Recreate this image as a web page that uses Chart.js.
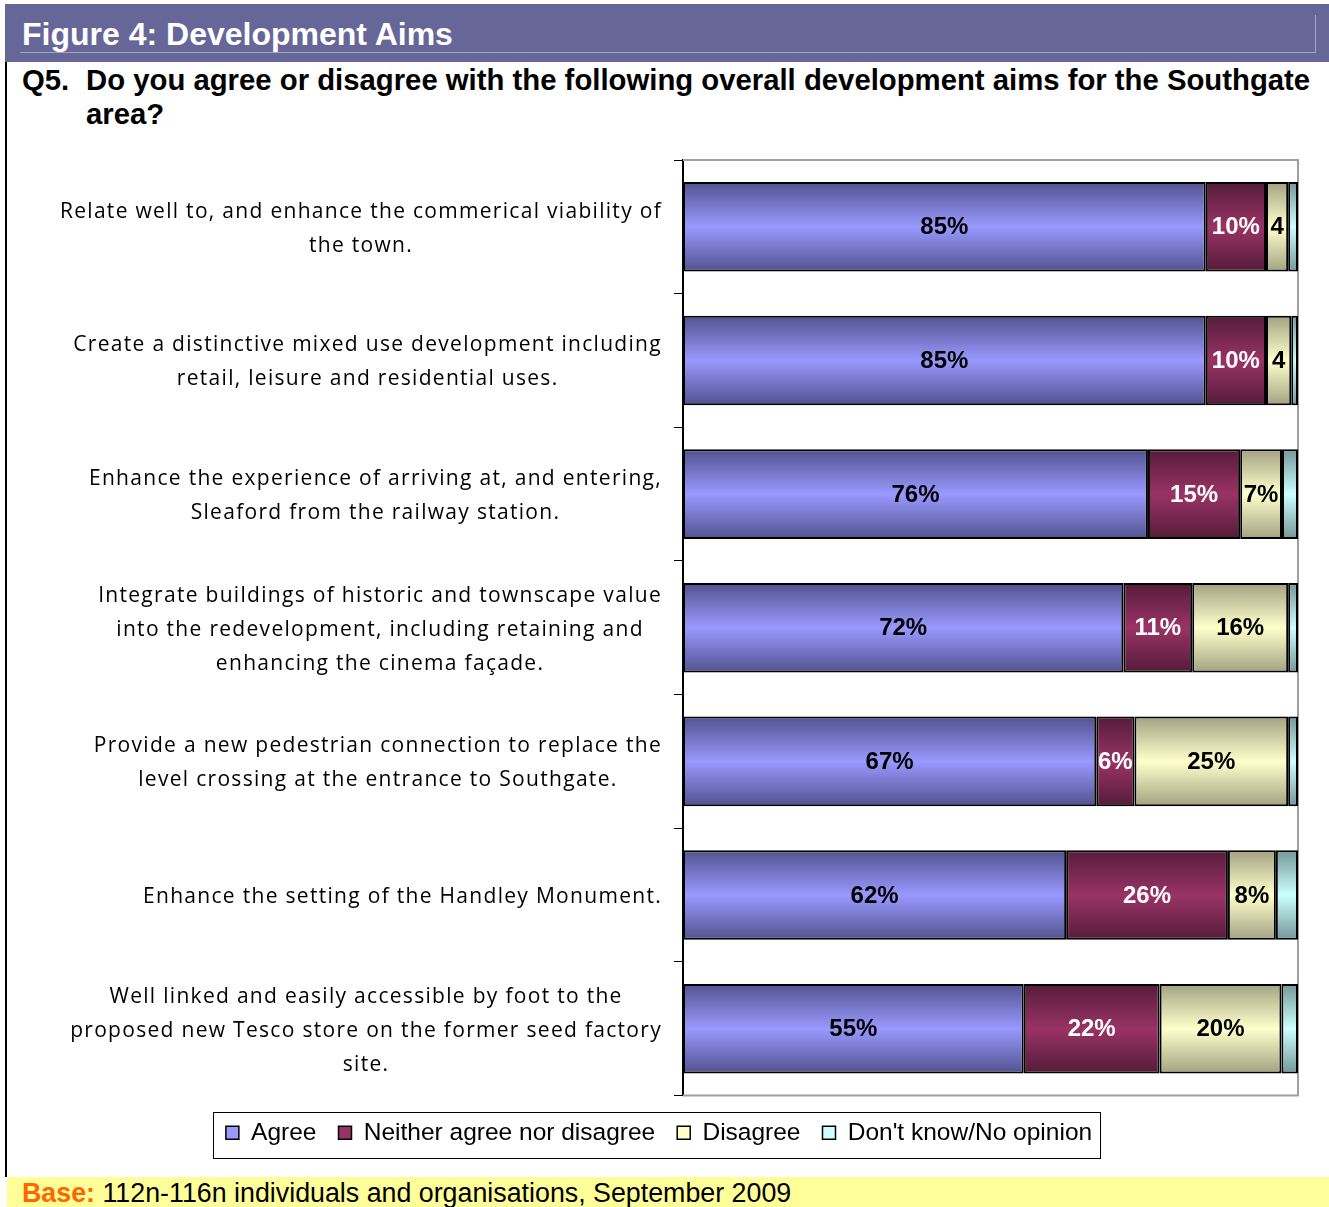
<!DOCTYPE html>
<html>
<head>
<meta charset="utf-8">
<script src="https://cdn.jsdelivr.net/npm/chart.js@4.4.0/dist/chart.umd.min.js"></script>
<style>
body { margin: 0; background: #fff; width: 1329px; height: 1207px; position: relative; overflow: hidden; font-family: "Liberation Sans", Arial, sans-serif; }
#band { position: absolute; left: 5px; top: 4px; width: 1324px; height: 58px; background: #666699; }
#bandLine { position: absolute; left: 15px; top: 11px; width: 1295px; height: 37px; border-right: 1px solid #a3a3c8; border-bottom: 1px solid #a3a3c8; }
#title { position: absolute; left: 22px; top: 14px; color: #fff; font-weight: bold; font-size: 32px; line-height: 40px; white-space: nowrap; }
#qNum, #qText { position: absolute; top: 63px; font-weight: bold; font-size: 29.3px; line-height: 34px; white-space: nowrap; }
#qNum { left: 22px; }
#qText { left: 86px; }
#leftLine { position: absolute; left: 5px; top: 62px; width: 2px; height: 1115px; background: #000; }
#base { position: absolute; left: 7px; top: 1177px; width: 1322px; height: 30px; background: #ffff99; font-size: 26.8px; line-height: 32px; white-space: nowrap; }
#base span { padding-left: 15px; color: #ff6600; font-weight: bold; }
#wrap { position: absolute; left: 0; top: 0; width: 1329px; height: 1177px; }
</style>
</head>
<body>
<div id="band"><div id="bandLine"></div></div>
<div id="title">Figure 4: Development Aims</div>
<div id="qNum">Q5.</div>
<div id="qText">Do you agree or disagree with the following overall development aims for the Southgate<br>area?</div>
<div id="leftLine"></div>
<div id="base"><span>Base:</span> 112n-116n individuals and organisations, September 2009</div>
<div id="wrap"><canvas id="aimsChart" width="1329" height="1177"></canvas></div>

<script>
// Aims (one array per category, each element a line of the label)
const categories = [
    ['Relate well to, and enhance the commerical viability of', 'the town.'],
    ['Create a distinctive mixed use development including', 'retail, leisure and residential uses.'],
    ['Enhance the experience of arriving at, and entering,', 'Sleaford from the railway station.'],
    ['Integrate buildings of historic and townscape value', 'into the redevelopment, including retaining and', 'enhancing the cinema façade.'],
    ['Provide a new pedestrian connection to replace the', 'level crossing at the entrance to Southgate.'],
    ['Enhance the setting of the Handley Monument.'],
    ['Well linked and easily accessible by foot to the', 'proposed new Tesco store on the former seed factory', 'site.'],
];

const seriesNames = ['Agree', 'Neither agree nor disagree', 'Disagree', "Don't know/No opinion"];

// percentages
const agree = [85.0, 85.0, 75.6, 71.6, 67.2, 62.3, 55.4];
const neither = [9.8, 9.8, 15.0, 11.2, 6.2, 26.3, 22.1];
const disagree = [3.6, 4.1, 6.8, 15.6, 25.0, 7.8, 19.8];
const dontKnow = [1.6, 1.1, 2.6, 1.6, 1.6, 3.6, 2.7];

const axisMin = 0;
const axisMax = 100;

const barPct = 0.67;
const labelFont = '21px "Open Sans", Lato, sans-serif';
const valueFont = 'bold 24px "Liberation Sans", Arial, sans-serif';

// shaded fill: dark at top and bottom, light in the middle
function barFill(light, dark) {
    return function (context) {
        const chart = context.chart;
        const yScale = chart.scales ? chart.scales.y : null;
        if (context.type !== 'data' || !chart.chartArea || !yScale) {
            return light;
        }
        const mid = yScale.getPixelForValue(context.dataIndex);
        const half = (chart.chartArea.height / categories.length) * barPct / 2;
        const grad = chart.ctx.createLinearGradient(0, mid - half, 0, mid + half);
        grad.addColorStop(0, dark);
        grad.addColorStop(0.5, light);
        grad.addColorStop(1, dark);
        return grad;
    };
}

// frame round the plot (top, right, bottom)
const plotFrame = {
    id: 'plotFrame',
    beforeDatasetsDraw(chart) {
        const { ctx, chartArea: a } = chart;
        ctx.save();
        ctx.strokeStyle = '#a0a0a0';
        ctx.lineWidth = 2;
        ctx.beginPath();
        ctx.moveTo(a.left, a.top);
        ctx.lineTo(a.right, a.top);
        ctx.lineTo(a.right, a.bottom);
        ctx.lineTo(a.left, a.bottom);
        ctx.stroke();
        ctx.restore();
    },
};

// category labels: each block right-aligned, its lines centred on each other
const categoryLabels = {
    id: 'categoryLabels',
    afterDraw(chart) {
        const ctx = chart.ctx;
        const yScale = chart.scales.y;
        const rightEdge = chart.chartArea.left - 21;
        const lineGap = 34;
        ctx.save();
        ctx.font = labelFont;
        ctx.letterSpacing = '1.3px';
        ctx.fillStyle = '#000';
        ctx.textAlign = 'center';
        ctx.textBaseline = 'middle';
        categories.forEach((lines, i) => {
            const mid = yScale.getPixelForValue(i) + 2;
            const widest = Math.max(...lines.map(l => ctx.measureText(l).width));
            const cx = rightEdge - widest / 2;
            lines.forEach((line, j) => {
                ctx.fillText(line, cx, mid + (j - (lines.length - 1) / 2) * lineGap);
            });
        });
        ctx.restore();
    },
};

// value labels inside the bars; a label too wide for its bar loses characters
const valueLabels = {
    id: 'valueLabels',
    afterDatasetsDraw(chart) {
        const ctx = chart.ctx;
        ctx.save();
        ctx.font = valueFont;
        ctx.textBaseline = 'middle';
        ctx.textAlign = 'center';
        chart.data.datasets.forEach((ds, di) => {
            if (!ds.labelColor) return;
            chart.getDatasetMeta(di).data.forEach((bar, i) => {
                const p = bar.getProps(['x', 'y', 'base', 'height'], true);
                const left = Math.min(p.x, p.base);
                const w = Math.abs(p.x - p.base);
                let text = Math.round(ds.data[i]) + '%';
                while (text.length && ctx.measureText(text).width > w - 2) {
                    text = text.slice(0, -1);
                }
                if (!text) return;
                ctx.fillStyle = ds.labelColor;
                ctx.fillText(text, left + w / 2, p.y + 1);
            });
        });
        ctx.restore();
    },
};

// box round the legend items
const legendBox = {
    id: 'legendBox',
    afterDraw(chart) {
        const legend = chart.legend;
        const boxes = legend.legendHitBoxes;
        if (!boxes || !boxes.length) return;
        const first = boxes[0];
        const last = boxes[boxes.length - 1];
        const mid = first.top + first.height / 2;
        const ctx = chart.ctx;
        ctx.save();
        ctx.strokeStyle = '#000';
        ctx.lineWidth = 1;
        ctx.strokeRect(Math.round(first.left - 13) + 0.5, Math.round(mid - 21) + 0.5, Math.round(last.left + last.width + 8 - first.left + 13), 46);
        ctx.restore();
    },
};

const barData = {
    labels: categories,
    datasets: [
        { label: seriesNames[0], data: agree, backgroundColor: barFill('#9999ff', '#52528f'), legendColor: '#9999ff', labelColor: '#000' },
        { label: seriesNames[1], data: neither, backgroundColor: barFill('#993366', '#551c39'), legendColor: '#993366', labelColor: '#fff' },
        { label: seriesNames[2], data: disagree, backgroundColor: barFill('#ffffcc', '#a2a282'), legendColor: '#ffffcc', labelColor: '#000' },
        { label: seriesNames[3], data: dontKnow, backgroundColor: barFill('#ccffff', '#739797'), legendColor: '#ccffff' },
    ].map(ds => Object.assign(ds, {
        borderColor: '#000',
        borderWidth: 2,
        borderSkipped: false,
        barPercentage: barPct,
        categoryPercentage: 1,
    })),
};

new Chart(document.getElementById('aimsChart').getContext('2d'), {
    type: 'bar',
    data: barData,
    plugins: [plotFrame, valueLabels, categoryLabels, legendBox],
    options: {
        indexAxis: 'y',
        responsive: false,
        animation: false,
        devicePixelRatio: 1,
        layout: { padding: { top: 160, right: 31, left: 20, bottom: 22 } },
        scales: {
            x: {
                stacked: true,
                min: axisMin,
                max: axisMax,
                // kept visible but empty: only leaves a small gap above the legend
                ticks: { display: false },
                grid: { display: false, drawTicks: true, tickLength: 3 },
                border: { display: false },
            },
            y: {
                stacked: true,
                afterFit(scale) { scale.width = 663; },
                ticks: { display: false },
                grid: { drawOnChartArea: false, offset: true, tickLength: 9, color: '#000', lineWidth: 1 },
                border: { color: '#000', width: 2 },
            },
        },
        plugins: {
            tooltip: { enabled: false },
            legend: {
                position: 'bottom',
                labels: {
                    color: '#000',
                    font: { family: '"Liberation Sans", Arial, sans-serif', size: 24.5 },
                    boxWidth: 13,
                    boxHeight: 13,
                    padding: 22,
                    generateLabels(chart) {
                        const items = Chart.defaults.plugins.legend.labels.generateLabels(chart);
                        items.forEach(item => {
                            item.fillStyle = chart.data.datasets[item.datasetIndex].legendColor;
                            item.lineWidth = 1.5;
                        });
                        return items;
                    },
                },
            },
        },
    },
});
</script>
</body>
</html>
